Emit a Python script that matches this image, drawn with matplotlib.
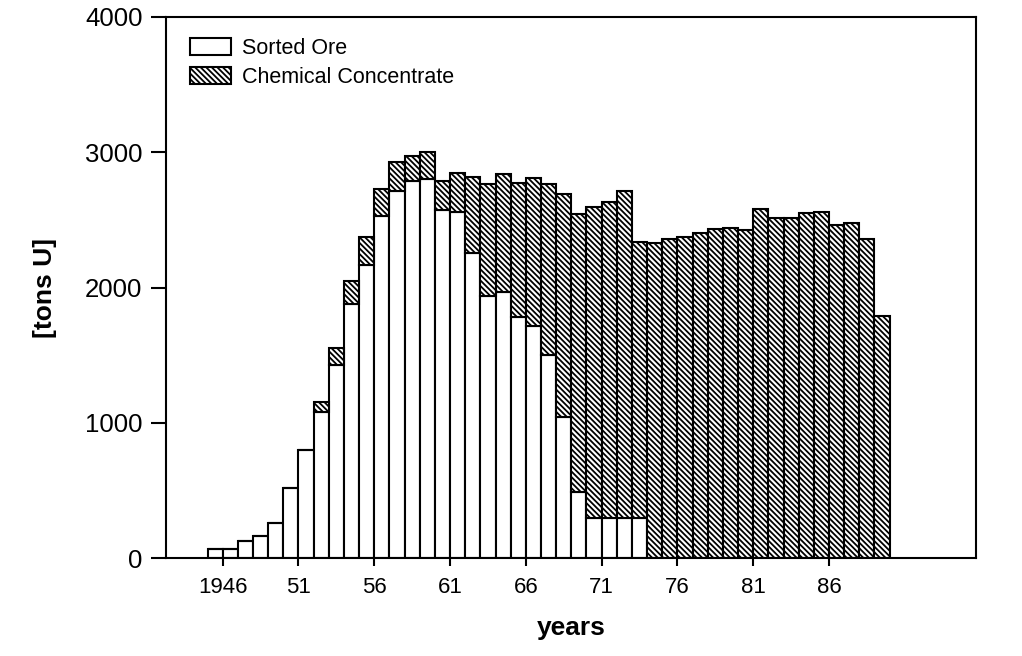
import matplotlib
matplotlib.use("Agg")
import matplotlib.pyplot as plt
from matplotlib import font_manager

names = {f.name for f in font_manager.fontManager.ttflist}
base_font = "Liberation Sans" if "Liberation Sans" in names else "DejaVu Sans"
plt.rcParams['font.family'] = [base_font, 'DejaVu Sans']
plt.rcParams['hatch.linewidth'] = 1.3

# ---- data ----
years = list(range(1946, 1991))
sorted_ore = [70, 70, 125, 160, 260, 520, 800, 1080, 1430, 1880,
              2170, 2530, 2715, 2785, 2800, 2575, 2560, 2255, 1940, 1965,
              1780, 1715, 1500, 1040, 490, 295, 295, 295, 295,
              0, 0, 0, 0, 0, 0, 0, 0, 0, 0, 0, 0, 0, 0, 0, 0]
chemical = [0, 0, 0, 0, 0, 0, 0, 75, 120, 165,
            200, 195, 210, 190, 200, 215, 290, 560, 825, 875,
            995, 1095, 1265, 1650, 2050, 2300, 2340, 2420, 2040,
            2330, 2355, 2375, 2405, 2430, 2440, 2425, 2580, 2515, 2515,
            2550, 2560, 2465, 2480, 2355, 1790]
tick_years = [1946, 1951, 1956, 1961, 1966, 1971, 1976, 1981, 1986]
tick_labels = ["1946", "51", "56", "61", "66", "71", "76", "81", "86"]
y_ticks = [0, 1000, 2000, 3000, 4000]

fig = plt.figure(figsize=(10.22, 6.56), dpi=100)
ax = fig.add_axes([166/1022, 1-558/656, 810/1022, 541/656])

left_edges = [y - 1 for y in years]
ax.bar(left_edges, sorted_ore, width=1.0, align='edge', color='white',
       edgecolor='black', linewidth=1.5, label='Sorted Ore')
ax.bar(left_edges, chemical, width=1.0, align='edge', bottom=sorted_ore,
       color='white', edgecolor='black', linewidth=1.5, hatch='\\\\\\\\\\\\',
       label='Chemical Concentrate')

ax.set_xlim(1942.26, 1995.7)
ax.set_ylim(0, 4000)
ax.set_xticks(tick_years)
ax.set_xticklabels(tick_labels, fontsize=16)
ax.set_yticks(y_ticks)
ax.set_yticklabels([str(v) for v in y_ticks], fontsize=18.5)
ax.tick_params(axis='x', direction='out', length=6, width=1.5, pad=8)
ax.tick_params(axis='y', direction='out', length=11, width=1.5, pad=6)
for s in ax.spines.values():
    s.set_linewidth(1.5)

ax.set_xlabel("years", fontsize=19, fontweight='bold', labelpad=13)
ax.set_ylabel("[tons U]", fontsize=19, fontweight='bold', labelpad=20)

ax.legend(loc='upper left', bbox_to_anchor=(0.0296, 0.961), frameon=False,
          borderaxespad=0, borderpad=0, fontsize=15.5, handlelength=1.9,
          handleheight=0.85, handletextpad=0.5, labelspacing=0.35)

fig.savefig("out.png", dpi=100)
